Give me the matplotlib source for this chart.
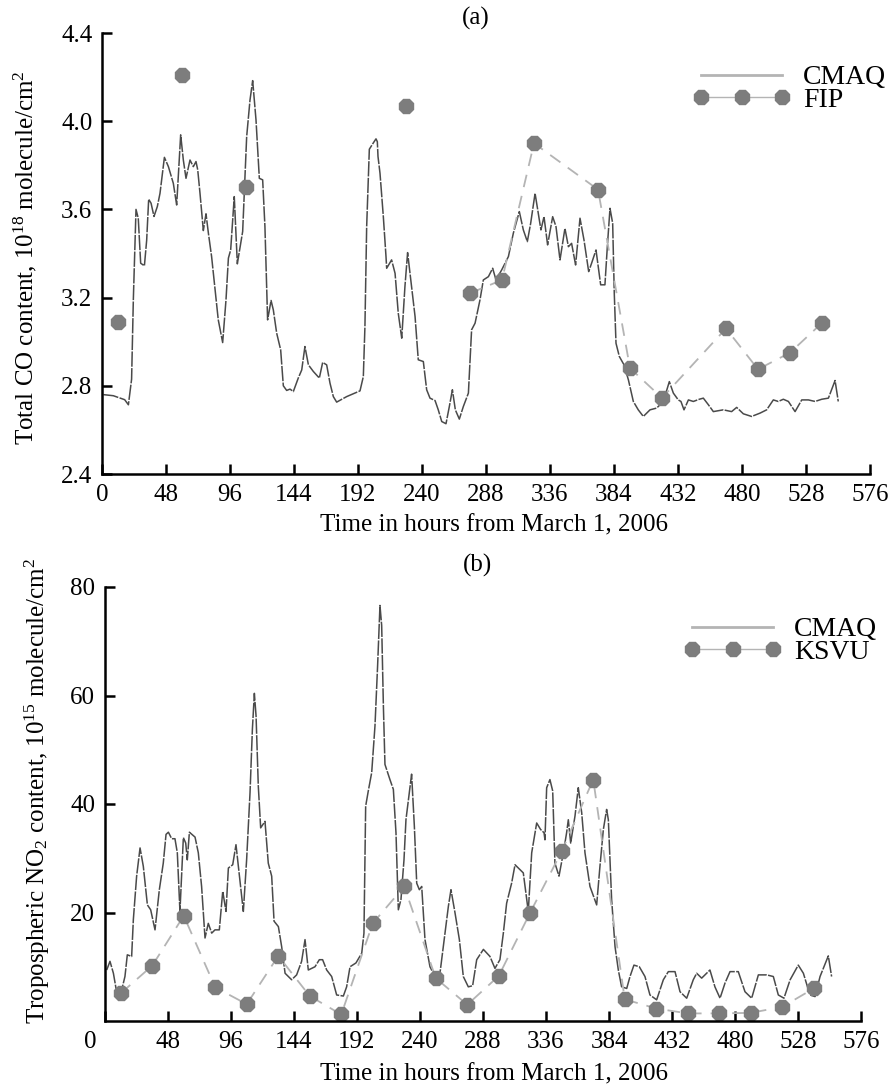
import matplotlib
matplotlib.use("Agg")
import matplotlib.pyplot as plt
import matplotlib.transforms as mtransforms
from matplotlib.lines import Line2D
import numpy as np

plt.rcParams["font.family"] = ["Liberation Serif", "DejaVu Serif"]
plt.rcParams["mathtext.fontset"] = "custom"
plt.rcParams["mathtext.rm"] = "Liberation Serif"
plt.rcParams["mathtext.it"] = "Liberation Serif:italic"

# ---- panel (a): total CO, CMAQ model (hourly) and FIP observations ----
co_hours = [
    1, 8.5, 17, 19.8, 22.2, 23.5, 25.5, 27.2, 29, 31.8, 33.5, 35, 36.8, 39, 41.5,
    43.5, 46.8, 49.8, 53.5, 56, 59, 61, 63, 66, 68.5, 70.5, 71.8, 73.5, 76, 78,
    79.8, 82.2, 84.8, 87.2, 90.5, 93, 94.8, 96.5, 99.2, 101.5, 105.5, 108.5, 111,
    113, 115.5, 118, 120.5, 122.2, 124.2, 126.8, 128.5, 131, 134, 136, 138.5, 141,
    143.5, 147.2, 149.8, 152.2, 154.8, 158.5, 163, 165.5, 168.5, 171, 173.5, 176,
    183.5, 193.5, 196, 197.2, 198.5, 200.5, 203, 205.5, 206.5, 207, 208.5, 211,
    213, 213.5, 217.2, 219.8, 222.2, 224.8, 227.2, 229.2, 232.2, 234.8, 237.2,
    241, 243.5, 246, 249.8, 252.2, 254.8, 258, 260.5, 262.8, 265, 268, 271, 274.8,
    277.2, 279.8, 283.5, 286, 289.8, 293, 295.5, 299.8, 304.8, 308.5, 313, 316,
    319, 321.5, 324.8, 327.2, 329.2, 331.5, 334.2, 338, 340.5, 343.5, 347.2, 349.8,
    352.2, 355.2, 358.5, 361.5, 365, 367.2, 370.5, 374, 377.2, 379, 381, 383,
    384.2, 385.5, 388, 391.5, 394.8, 398.5, 402.2, 406, 411, 416, 421, 425.5,
    428.5, 432.2, 434.2, 436.5, 439.8, 443.5, 448, 451, 454.8, 458.5, 466, 472.2,
    476, 481, 487.2, 493.5, 498.5, 503.5, 507.2, 511, 514.8, 519.8, 524.8, 529.8,
    534.8, 539.8, 544.8, 549.8, 552.2,
]
co_cmaq = [
    2.76, 2.755, 2.737, 2.714, 2.83, 3.19, 3.60, 3.56, 3.356, 3.344, 3.46, 3.646,
    3.628, 3.568, 3.613, 3.673, 3.836, 3.794, 3.718, 3.62, 3.938, 3.824, 3.741,
    3.824, 3.794, 3.817, 3.779, 3.673, 3.504, 3.58, 3.492, 3.386, 3.235, 3.099,
    2.996, 3.19, 3.379, 3.416, 3.658, 3.353, 3.50, 3.93, 4.096, 4.184, 4.006,
    3.741, 3.734, 3.522, 3.099, 3.187, 3.144, 3.039, 2.963, 2.80, 2.779, 2.785,
    2.774, 2.835, 2.872, 2.978, 2.895, 2.865, 2.835, 2.906, 2.895, 2.812, 2.751,
    2.726, 2.751, 2.777, 2.842, 3.069, 3.522, 3.873, 3.897, 3.92, 3.907, 3.84,
    3.764, 3.567, 3.386, 3.333, 3.371, 3.31, 3.129, 3.016, 3.25, 3.404, 3.25,
    3.114, 2.918, 2.91, 2.782, 2.744, 2.733, 2.691, 2.638, 2.628, 2.706, 2.782,
    2.691, 2.649, 2.706, 2.767, 3.054, 3.084, 3.19, 3.28, 3.295, 3.333, 3.28,
    3.326, 3.386, 3.492, 3.59, 3.507, 3.454, 3.537, 3.673, 3.582, 3.507, 3.567,
    3.439, 3.567, 3.522, 3.371, 3.514, 3.431, 3.446, 3.348, 3.56, 3.461, 3.318,
    3.356, 3.416, 3.258, 3.258, 3.431, 3.605, 3.537, 3.22, 2.993, 2.933, 2.895,
    2.827, 2.729, 2.691, 2.661, 2.691, 2.699, 2.729, 2.819, 2.767, 2.736, 2.729,
    2.691, 2.736, 2.729, 2.739, 2.744, 2.714, 2.683, 2.691, 2.683, 2.702, 2.673,
    2.661, 2.676, 2.691, 2.736, 2.729, 2.739, 2.729, 2.683, 2.736, 2.736, 2.729,
    2.739, 2.744, 2.824, 2.729,
]
# FIP daily values (nan = no measurement, breaks the connecting line)
fip_hours = [12, 36, 60, 84, 108, 132, 228, 252, 276, 300, 324, 372, 396, 420,
             468, 492, 516, 540]
fip_vals = [3.09, np.nan, 4.21, np.nan, 3.70, np.nan, 4.07, np.nan, 3.22, 3.28,
            3.90, 3.69, 2.88, 2.745, 3.06, 2.875, 2.95, 3.085]

# ---- panel (b): tropospheric NO2, CMAQ model and KSVU observations ----
no2_hours = [
    1.3, 3.8, 6.4, 8.4, 12.7, 15.2, 17, 20.3, 21.6, 24.1, 26.7, 29.2, 32.3, 34.8,
    38.1, 41.4, 44.4, 46.5, 48.3, 50.8, 53.3, 55.1, 57.1, 59.7, 61.5, 62.7, 64.3,
    68.6, 71.1, 73.6, 76.2, 78.7, 81.3, 83.8, 87.1, 89.7, 92.2, 94, 97.3, 99.8,
    101.6, 105.4, 107.9, 110.5, 112.3, 113.8, 115.1, 116.8, 118.6, 121.9, 124.4,
    127, 128.8, 132.1, 134.6, 137.2, 142.2, 146, 149.8, 152.4, 154.9, 160, 163.3,
    165.8, 168.9, 172.7, 176.5, 181.6, 184.1, 186.7, 191.2, 195.6, 197.3, 198.6,
    200.6, 203.2, 205.7, 207.7, 209.5, 210.8, 212.1, 213.3, 217.1, 219.7, 221.7,
    223.5, 225.5, 227.8, 229.3, 233.6, 235.7, 237.5, 239.5, 241.3, 243.8, 247.6,
    251.4, 255.2, 259, 261.6, 263.6, 266.7, 270, 273, 276.8, 280.1, 283.2, 288.3,
    293.3, 297.1, 300.9, 303.5, 306, 309.8, 312.4, 315.7, 318.7, 322.5, 325.1,
    328.9, 331.9, 334.5, 335.2, 336.5, 339, 341.1, 342.8, 345.9, 349.2, 351.7,
    353, 354.8, 358.1, 360.6, 363.2, 365.7, 369.5, 374.6, 377.1, 379.7, 382.2,
    383.5, 386, 388.6, 391.1, 393.6, 397.5, 400, 403, 407.1, 411.4, 415.2, 420.3,
    425.4, 429.2, 434.3, 438.1, 443.2, 448.2, 450.8, 454.6, 460.9, 464.7, 468.6,
    472.4, 476.2, 482.5, 487.6, 492.7, 497.8, 504.1, 509.2, 513, 517.3, 522,
    528.2, 532.1, 537.1, 541, 544.8, 551.1, 553.6,
]
no2_cmaq = [
    9.4, 11.0, 8.8, 6.0, 5.7, 8.2, 12.2, 11.9, 18.7, 26.7, 31.9, 28.5, 21.4, 20.5,
    16.8, 24.2, 29.1, 34.4, 34.8, 33.6, 33.6, 31.0, 20.2, 33.8, 32.8, 29.7, 34.8,
    33.9, 31.0, 24.8, 15.3, 18.0, 16.2, 16.8, 16.8, 23.9, 20.2, 28.2, 28.8, 32.5,
    28.5, 20.2, 29.7, 42.1, 53.8, 60.4, 56.2, 43.3, 35.6, 36.8, 29.1, 26.7, 18.4,
    17.4, 13.7, 8.8, 7.6, 8.5, 11.0, 15.0, 9.4, 10.0, 11.3, 11.3, 9.4, 8.2, 4.8,
    4.6, 6.3, 10.0, 10.7, 12.5, 16.2, 39.6, 42.4, 45.8, 54.4, 65.5, 76.6, 72.9,
    58.1, 47.3, 44.5, 42.7, 34.7, 20.5, 22.4, 29.7, 37.1, 45.5, 35.9, 25.4, 24.2,
    24.8, 15.0, 10.0, 8.2, 8.8, 16.2, 21.1, 24.2, 19.9, 15.0, 8.2, 6.3, 6.5, 11.3,
    13.2, 11.9, 9.7, 11.3, 16.2, 21.7, 25.4, 28.8, 28.0, 27.3, 20.2, 31.0, 36.5,
    35.3, 34.7, 33.4, 43.0, 44.5, 42.4, 29.1, 26.7, 31.0, 34.7, 37.1, 32.8, 37.8,
    43.0, 38.4, 31.0, 24.8, 21.4, 28.5, 35.3, 39.0, 37.1, 22.4, 13.7, 9.4, 6.3,
    6.0, 8.2, 10.3, 10.0, 8.2, 4.8, 3.9, 7.6, 9.1, 9.1, 5.4, 4.2, 7.6, 8.8, 7.9,
    9.4, 6.3, 4.2, 7.0, 9.1, 9.1, 5.4, 4.2, 8.5, 8.5, 8.2, 4.8, 4.2, 7.6, 10.3,
    8.8, 4.8, 4.5, 8.2, 12.0, 8.2,
]
ksvu_hours = [12, 36, 60, 84, 108, 132, 156, 180, 204, 228, 252, 276, 300, 324,
              348, 372, 396, 420, 444, 468, 492, 516, 540]
ksvu_vals = [5.1, 10.2, 19.4, 6.2, 3.1, 12.0, 4.6, 1.2, 18.0, 24.8, 7.9, 3.0,
             8.3, 20.0, 31.3, 44.5, 4.0, 2.3, 1.4, 1.4, 1.5, 2.6, 6.0]

xticks = list(range(0, 577, 48))
co_ticks = [2.4, 2.8, 3.2, 3.6, 4.0, 4.4]
no2_ticks = [20, 40, 60, 80]

W, H = 891, 1089
fig = plt.figure(figsize=(W / 100, H / 100), dpi=100)
ax1 = fig.add_axes([102 / W, 1 - 474 / H, 768 / W, 441 / H])
ax2 = fig.add_axes([105 / W, 1 - 1021 / H, 756 / W, 434 / H])

model_kw = dict(color="#4a4a4a", lw=1.1, linestyle=(0, (10, 0.9)))
obs_kw = dict(color="#b4b4b4", lw=1.3, linestyle=(0, (7, 5)), marker="8",
              markersize=11.5, markerfacecolor="#7d7d7d",
              markeredgecolor="#7d7d7d")

ax1.plot(co_hours, co_cmaq, **model_kw)
ax1.plot(fip_hours, fip_vals, **obs_kw)
ax2.plot(no2_hours, no2_cmaq, **model_kw)
ax2.plot(ksvu_hours, ksvu_vals, **obs_kw)

for ax in (ax1, ax2):
    ax.set_xlim(0, 576)
    ax.set_xticks(xticks)
    ax.spines["top"].set_visible(False)
    ax.spines["right"].set_visible(False)
    for s in ("left", "bottom"):
        ax.spines[s].set_linewidth(1.8)
    ax.tick_params(direction="in", length=7, width=1.8, labelsize=18, pad=7)

ax1.set_ylim(2.4, 4.4)
ax1.set_yticks(co_ticks)
ax1.set_yticklabels([f"{t:.1f}" for t in co_ticks])
ax2.set_ylim(0, 80)
ax2.set_yticks(no2_ticks)

ax1.set_ylabel("Total CO content, 10$^{18}$ molecule/cm$^{2}$", fontsize=18,
               va="center")
ax1.yaxis.set_label_coords(-0.100, 0.49)
ax2.set_ylabel("Tropospheric NO$_{2}$ content, 10$^{15}$ molecule/cm$^{2}$",
               fontsize=18, va="center")
ax2.yaxis.set_label_coords(-0.089, 0.53)

ax1.set_xlabel("Time in hours from March 1, 2006", fontsize=18, va="center")
ax1.xaxis.set_label_coords(0.51, -0.116)
ax2.set_xlabel("Time in hours from March 1, 2006", fontsize=18, va="center")
ax2.xaxis.set_label_coords(0.514, -0.124)

ax1.text(0.487, 1.034, "(a)", transform=ax1.transAxes, ha="center",
         va="center", fontsize=18)
ax2.text(0.493, 1.05, "(b)", transform=ax2.transAxes, ha="center",
         va="center", fontsize=18)

# the "0" of the lower axis sits left of the corner in the original
t0 = ax2.xaxis.get_major_ticks()[0].label1
t0.set_transform(t0.get_transform() +
                 mtransforms.ScaledTranslation(-0.15, 0, fig.dpi_scale_trans))

leg_kw = dict(loc="upper right", frameon=False, fontsize=20, numpoints=3,
              handlelength=3.5, handletextpad=0.45, labelspacing=-0.1,
              borderpad=0, borderaxespad=0, bbox_transform=fig.transFigure)
cmaq_handle = Line2D([], [], color="#b4b4b4", lw=2)
obs_handle = Line2D([], [], **obs_kw)
obs_handle.set_linestyle("-")
obs_handle.set_linewidth(1)
ax1.legend([cmaq_handle, obs_handle], ["CMAQ", "FIP"],
           bbox_to_anchor=(886 / W, 1 - 65 / H), **leg_kw)
ax2.legend([cmaq_handle, obs_handle], ["CMAQ", "KSVU"],
           bbox_to_anchor=(877 / W, 1 - 617 / H), **leg_kw)

fig.savefig("out.png", dpi=100)
